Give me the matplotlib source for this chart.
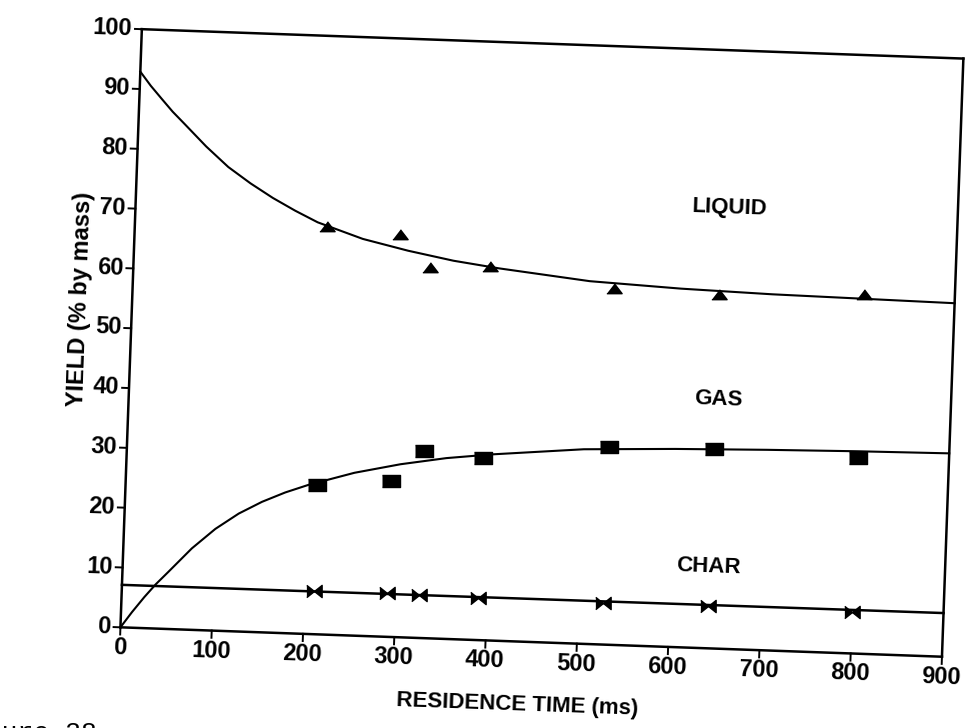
import matplotlib
matplotlib.use("Agg")
import matplotlib.pyplot as plt
from matplotlib.transforms import Affine2D
import mpl_toolkits.axisartist.floating_axes as floating_axes
from mpl_toolkits.axisartist.grid_finder import FixedLocator

# measured runs: residence time (ms) and product yields (% by mass)
time_ms = [210, 290, 325, 390, 527, 642, 800]
liquid = [68.0, 67.1, 61.9, 62.3, 59.5, 59.0, 60.0]
gas = [25.0, 26.1, 31.2, 30.4, 33.0, 33.4, 32.7]
char = [7.2, 7.3, 7.2, 7.1, 7.0, 7.1, 7.0]

# fitted curves
fit_time = [0, 12, 25, 37, 50, 75, 100, 125, 150, 175, 200, 250, 300, 350, 400,
            500, 600, 700, 800, 900]
liquid_fit = [92.9, 90.6, 88.4, 86.4, 84.5, 80.8, 77.5, 74.9, 72.6, 70.6, 68.8,
              66.3, 64.6, 63.2, 62.2, 60.6, 59.9, 59.5, 59.3, 59.1]
gas_fit = [0.0, 2.6, 5.2, 7.4, 9.5, 13.6, 17.0, 19.7, 21.8, 23.5, 24.9,
           27.2, 28.9, 30.2, 31.1, 32.5, 33.1, 33.5, 33.8, 34.0]
char_fit_time = [0, 900]
char_fit = [7.1, 7.3]

x_ticks = [0, 100, 200, 300, 400, 500, 600, 700, 800, 900]
y_ticks = [0, 10, 20, 30, 40, 50, 60, 70, 80, 90, 100]

plt.rcParams["font.family"] = ["Liberation Sans", "DejaVu Sans"]
plt.rcParams["font.weight"] = "bold"

# the scanned page sits a little crooked, so the whole plot frame is tilted
tilt = -2.05
px_per_ms = 838.5 / 900
px_per_pct = 610.5 / 100
tr = Affine2D().scale(px_per_ms, px_per_pct).rotate_deg(tilt)


def plain(direction, factor, values):
    return [f"{v:g}" for v in values]


grid_helper = floating_axes.GridHelperCurveLinear(
    tr,
    extremes=(0, 900, 0, 100),
    grid_locator1=FixedLocator(x_ticks),
    grid_locator2=FixedLocator(y_ticks),
    tick_formatter1=plain,
    tick_formatter2=plain,
)

fig = plt.figure(figsize=(9.77, 7.28), dpi=100)
ax = fig.add_axes(
    [0.11464, 0.08929, 0.88004, 0.87926],
    axes_class=floating_axes.FloatingAxes,
    grid_helper=grid_helper,
)

for side in ["left", "bottom", "right", "top"]:
    ax.axis[side].line.set_linewidth(1.8)
    ax.axis[side].major_ticks.set_visible(False)

for side in ["left", "bottom"]:
    labels = ax.axis[side].major_ticklabels
    labels.set_fontsize(17)
    labels.set_fontweight("bold")
ax.axis["left"].major_ticklabels.set_pad(7)
ax.axis["bottom"].major_ticklabels.set_pad(7)

for side in ["right", "top"]:
    ax.axis[side].major_ticklabels.set_visible(False)

aux = ax.get_aux_axes(tr)

# outward tick marks, drawn in data units through the tilted transform
for y in y_ticks:
    aux.plot([-7.5, 0], [y, y], color="black", lw=1.4, clip_on=False)
for x in x_ticks:
    aux.plot([x, x], [-1.2, 0], color="black", lw=1.4, clip_on=False)

triangle = [(-1, -0.55), (1, -0.55), (0, 0.75)]
block = [(-1, -0.62), (1, -0.62), (1, 0.62), (-1, 0.62)]
bowtie = [(-1, 0.8), (0, 0), (1, 0.8), (1, -0.8), (0, 0), (-1, -0.8)]

aux.plot(fit_time, liquid_fit, color="black", lw=1.5)
aux.plot(fit_time, gas_fit, color="black", lw=1.5)
aux.plot(char_fit_time, char_fit, color="black", lw=1.8)

aux.plot(time_ms, liquid, ls="none", marker=triangle, ms=11, color="black")
aux.plot(time_ms, gas, ls="none", marker=block, ms=13, color="black")
aux.plot(time_ms, char, ls="none", marker=bowtie, ms=11, color="black")

for label, x, y in [("LIQUID", 650, 73.7), ("GAS", 645, 41.6), ("CHAR", 641, 13.7)]:
    aux.text(x, y, label, rotation=tilt, rotation_mode="anchor",
             ha="center", va="center", fontsize=16, fontweight="bold")

fig.text(0.082, 0.5893, "YIELD (% by mass)", rotation=90 + tilt,
         rotation_mode="anchor", ha="center", va="center", fontsize=17, fontweight="bold")
fig.text(0.5292, 0.0320, "RESIDENCE TIME (ms)", rotation=tilt,
         rotation_mode="anchor", ha="center", va="center", fontsize=16, fontweight="bold")

# caption cut off by the page edge
fig.text(-0.047, 0.009, "Figure 38", family=["Liberation Mono", "DejaVu Sans Mono"],
         fontsize=19, fontweight="normal", ha="left", va="top")

fig.savefig("out.png", dpi=100)
